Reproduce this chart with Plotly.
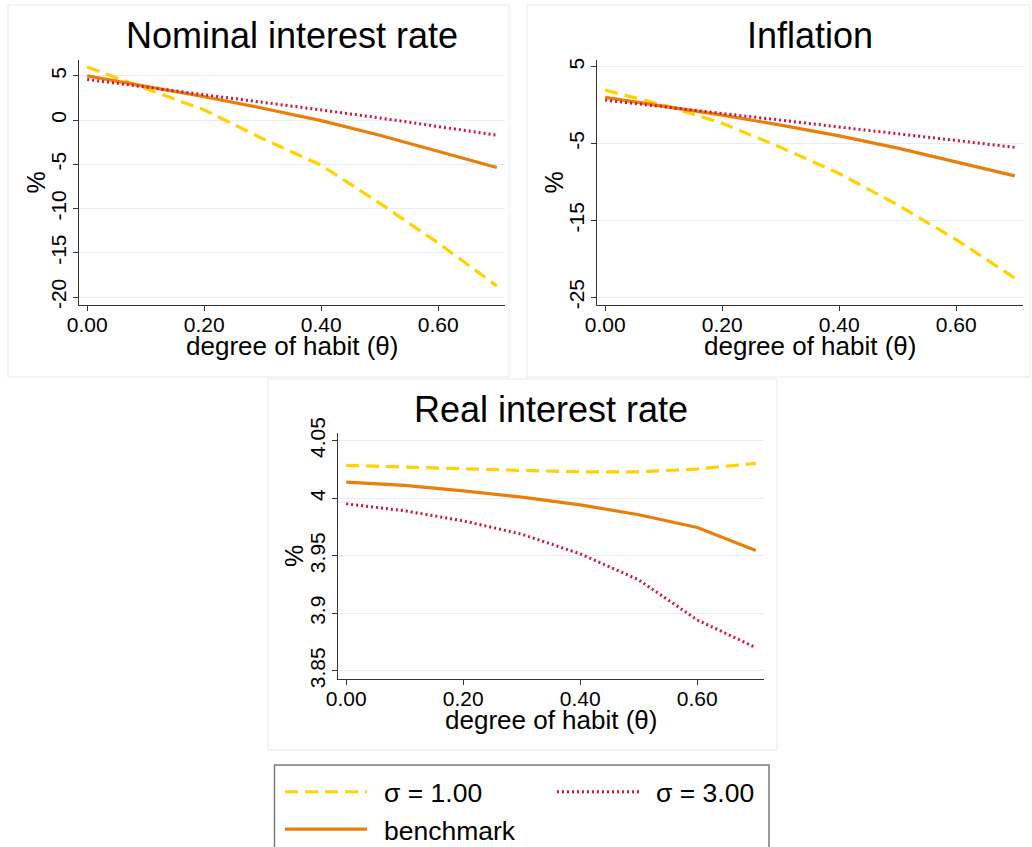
import plotly.graph_objects as go

# Degree of habit formation (theta)
theta = [0.0, 0.1, 0.2, 0.3, 0.4, 0.5, 0.6, 0.7]

# Nominal interest rate (%)
nominal_sigma1 = [6.0, 3.6, 1.15, -2.1, -5.1, -9.4, -13.9, -18.75]
nominal_bench = [5.0, 3.85, 2.65, 1.35, -0.05, -1.7, -3.5, -5.35]
nominal_sigma3 = [4.6, 3.75, 2.9, 2.05, 1.15, 0.25, -0.75, -1.7]

# Inflation (%)
infl_sigma1 = [1.95, 0.0, -2.35, -5.5, -8.9, -13.0, -17.5, -22.5]
infl_bench = [1.0, -0.1, -1.3, -2.6, -4.0, -5.6, -7.35, -9.2]
infl_sigma3 = [0.65, -0.2, -1.1, -1.95, -2.85, -3.7, -4.6, -5.5]

# Real interest rate (%)
real_sigma1 = [4.0286, 4.0270, 4.0254, 4.0242, 4.0230, 4.0230, 4.0254, 4.0303]
real_bench = [4.0140, 4.0112, 4.0065, 4.0010, 3.9943, 3.9857, 3.9746, 3.9546]
real_sigma3 = [3.9952, 3.9891, 3.9804, 3.9688, 3.9517, 3.9291, 3.8943, 3.8703]

panel_titles = ["Nominal interest rate", "Inflation", "Real interest rate"]
x_title = "degree of habit (θ)"
y_title = "%"
x_ticks = [0.0, 0.2, 0.4, 0.6]
x_ticktext = ["0.00", "0.20", "0.40", "0.60"]
nominal_ticks = [-20, -15, -10, -5, 0, 5]
infl_ticks = [-25, -15, -5, 5]
real_ticks = [3.85, 3.9, 3.95, 4.0, 4.05]
real_ticktext = ["3.85", "3.9", "3.95", "4", "4.05"]

series_names = ["σ = 1.00", "benchmark", "σ = 3.00"]

W, H = 1032, 847
FONT = "Liberation Sans, Arial, Helvetica, sans-serif"
YELLOW = "#FFD200"
ORANGE = "#E97F0A"
RED = "#D3123C"
styles = [
    dict(color=YELLOW, width=3.2, dash="13px,7px"),
    dict(color=ORANGE, width=3.2),
    dict(color=RED, width=3, dash="2px,3px"),
]


def px_x(a, b):
    return [a / W, b / W]


def px_y(top, bottom):
    return [1 - bottom / H, 1 - top / H]


# plot areas in pixels: (left, right, top, bottom)
areas = [(79, 505, 60, 305), (597, 1023, 60, 305), (338, 764, 433, 679)]
panel_frames = [(8, 509, 5, 377), (527, 1030, 5, 377), (268, 777, 379, 750)]
y_ranges = [[-20.9, 6.8], [-26.0, 5.87], [3.843, 4.0567]]
y_ticks = [nominal_ticks, infl_ticks, real_ticks]
y_ticktexts = [[str(v) for v in nominal_ticks], [str(v) for v in infl_ticks], real_ticktext]
data = [
    (nominal_sigma1, nominal_bench, nominal_sigma3),
    (infl_sigma1, infl_bench, infl_sigma3),
    (real_sigma1, real_bench, real_sigma3),
]

fig = go.Figure()
layout = dict(
    width=W, height=H,
    margin=dict(l=0, r=0, t=0, b=0, autoexpand=False),
    paper_bgcolor="white", plot_bgcolor="white",
    font=dict(family=FONT, color="black"),
    shapes=[], annotations=[],
)

for i in range(3):
    sfx = "" if i == 0 else str(i + 1)
    xa, ya = "x" + sfx, "y" + sfx
    l, r, t, b = areas[i]
    for k, series in enumerate(data[i]):
        legend_id = "legend2" if k == 2 else "legend"
        fig.add_trace(go.Scatter(
            x=theta, y=series, mode="lines", name=series_names[k],
            line=styles[k], xaxis=xa, yaxis=ya,
            showlegend=(i == 0), legend=legend_id,
        ))
    layout["xaxis" + sfx] = dict(
        domain=px_x(l, r), anchor=ya, range=[-0.014, 0.714],
        tickvals=x_ticks, ticktext=x_ticktext, ticks="outside", ticklen=5,
        tickcolor="#333333", showline=True, linecolor="#333333", linewidth=1.3,
        showgrid=False, zeroline=False, tickfont=dict(size=21),
        ticklabelstandoff=-4,
    )
    layout["yaxis" + sfx] = dict(
        domain=px_y(t, b), anchor=xa, range=y_ranges[i],
        tickvals=y_ticks[i], ticktext=y_ticktexts[i], tickangle=-90,
        ticks="outside", ticklen=5, tickcolor="#333333",
        showline=True, linecolor="#333333", linewidth=1.3,
        showgrid=True, gridcolor="#E6EFEF", gridwidth=1, zeroline=False,
        tickfont=dict(size=21), ticklabelstandoff=-2,
    )
    fl, fr, ft, fb = panel_frames[i]
    layout["shapes"].append(dict(
        type="rect", xref="paper", yref="paper",
        x0=fl / W, x1=fr / W, y0=1 - fb / H, y1=1 - ft / H,
        line=dict(color="#E4ECEC", width=1), layer="below",
    ))
    # panel title
    layout["annotations"].append(dict(
        text=panel_titles[i], xref="paper", yref="paper",
        x=(l + r) / 2 / W, y=1 - (t - 24) / H, xanchor="center", yanchor="middle",
        showarrow=False, font=dict(size=36),
    ))
    # x-axis title
    layout["annotations"].append(dict(
        text=x_title, xref="paper", yref="paper",
        x=(l + r) / 2 / W, y=1 - (b + 41) / H, xanchor="center", yanchor="middle",
        showarrow=False, font=dict(size=26),
    ))
    # y-axis title
    layout["annotations"].append(dict(
        text=y_title, xref="paper", yref="paper", textangle=-90,
        x=(l - 44) / W, y=1 - (t + b) / 2 / H, xanchor="center", yanchor="middle",
        showarrow=False, font=dict(size=25),
    ))

# legend frame
layout["shapes"].append(dict(
    type="rect", xref="paper", yref="paper",
    x0=274.5 / W, x1=769 / W, y0=-0.05, y1=1 - 765 / H,
    line=dict(color="#7A7A7A", width=1.5),
))
legend_common = dict(
    orientation="v", yanchor="top", xanchor="left", y=1 - 768 / H,
    bgcolor="rgba(0,0,0,0)", borderwidth=0, itemwidth=94,
    font=dict(size=26.5, family=FONT), tracegroupgap=0,
)
layout["legend"] = dict(legend_common, x=280 / W)
layout["legend2"] = dict(legend_common, x=552 / W)

fig.update_layout(**layout)

# stretch legend key lines to span the wider item slot
post = """
document.querySelectorAll('.legendlines path.js-line').forEach(function(p){
  p.setAttribute('d', 'M5,0h82');
});
"""
fig.write_html("out.html", post_script=post)
